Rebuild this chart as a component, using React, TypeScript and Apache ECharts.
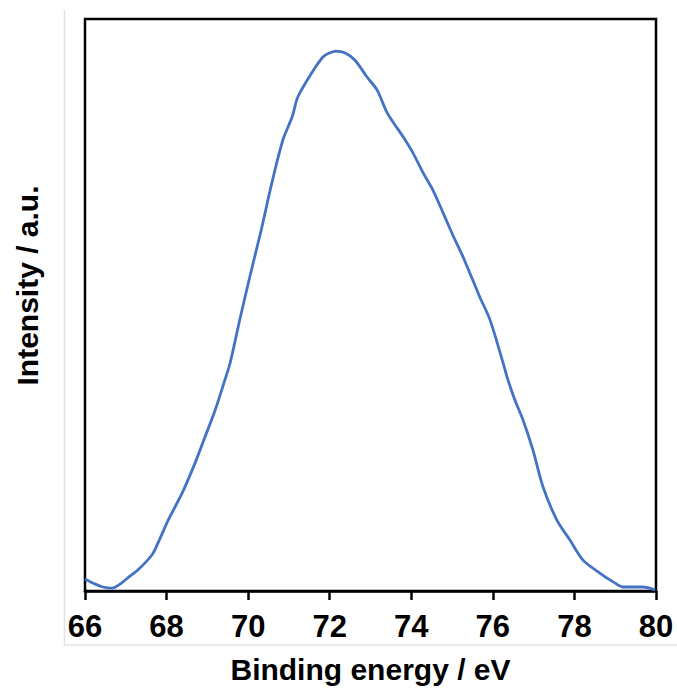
import React, { useEffect, useRef } from "react";
import * as echarts from "echarts";

const energy = [
  66.0, 66.25, 66.44, 66.66, 66.86, 67.05, 67.3, 67.64, 67.79, 68.04, 68.38, 68.7, 68.94, 69.19,
  69.43, 69.56, 69.8, 70.05, 70.32, 70.58, 70.85, 71.08, 71.22, 71.57, 71.84, 72.01, 72.15, 72.37,
  72.62, 72.91, 73.16, 73.4, 73.55, 73.8, 74.04, 74.29, 74.53, 74.78, 75.02, 75.27, 75.68,
  75.93, 76.25, 76.37, 76.54, 76.74, 76.98, 77.23, 77.57, 77.89, 78.21, 78.63, 78.95, 79.19,
  79.68, 79.98,
];
const intensity = [
  2.1, 1.2, 0.7, 0.5, 1.2, 2.3, 3.7, 6.3, 8.4, 12.4, 17.1, 22.4, 26.9, 31.6,
  36.9, 39.9, 47.6, 55.2, 63.1, 71.3, 78.8, 82.9, 86.4, 90.7, 93.4, 94.1, 94.4, 94.1,
  92.8, 89.9, 87.6, 83.7, 82.0, 79.4, 76.6, 73.1, 70.1, 66.1, 62.2, 58.4, 51.4,
  47.4, 39.9, 36.9, 33.4, 29.9, 24.7, 18.2, 12.4, 8.9, 5.4, 3.1, 1.6, 0.7,
  0.7, 0.2,
];
const xTitle = "Binding energy / eV";
const yTitle = "Intensity / a.u.";

const FONT = "'Liberation Sans', Arial, Helvetica, sans-serif";

export default function App() {
  const ref = useRef<HTMLDivElement>(null);
  useEffect(() => {
    if (!ref.current) return;
    const chart = echarts.init(ref.current, undefined, { renderer: "svg" });
    chart.setOption({
      animation: false,
      backgroundColor: "#ffffff",
      grid: {
        left: 85,
        right: 21,
        top: 19,
        bottom: 97,
        containLabel: false,
        outerBoundsMode: "none",
        show: true,
        borderColor: "#000",
        borderWidth: 2.5,
        backgroundColor: "transparent",
      },
      xAxis: {
        type: "value",
        min: 66,
        max: 80,
        interval: 2,
        name: xTitle,
        nameLocation: "middle",
        nameGap: 63,
        nameTextStyle: { fontFamily: FONT, fontWeight: "bold", fontSize: 30, color: "#000" },
        axisLine: { show: true, lineStyle: { color: "#000", width: 2.5 } },
        axisTick: { show: true, inside: false, length: 9, lineStyle: { color: "#000", width: 2.5 } },
        axisLabel: { fontFamily: FONT, fontWeight: "bold", fontSize: 31, color: "#000", margin: 20 },
        splitLine: { show: false },
      },
      yAxis: {
        type: "value",
        min: 0,
        max: 100,
        axisLine: { show: false },
        axisTick: { show: false },
        axisLabel: { show: false },
        splitLine: { show: false },
      },
      graphic: [
        {
          type: "line",
          shape: { x1: 64.5, y1: 10, x2: 64.5, y2: 645 },
          style: { stroke: "#e2e2e2", lineWidth: 1.5 },
          silent: true,
        },
        {
          type: "line",
          shape: { x1: 64, y1: 645, x2: 677, y2: 645 },
          style: { stroke: "#e2e2e2", lineWidth: 1.5 },
          silent: true,
        },
        {
          type: "text",
          x: 27,
          y: 285.5,
          rotation: Math.PI / 2,
          style: {
            text: yTitle,
            fontFamily: FONT,
            fontWeight: "bold",
            fontSize: 30,
            fill: "#000",
            align: "center",
            verticalAlign: "middle",
          },
        },
      ],
      series: [
        {
          type: "line",
          data: energy.map((e, i) => [e, intensity[i]]),
          showSymbol: false,
          smooth: 0.3,
          lineStyle: { color: "#4472C4", width: 2.8 },
          itemStyle: { color: "#4472C4" },
        },
      ],
    });
    return () => chart.dispose();
  }, []);
  return <div ref={ref} style={{ width: 677, height: 688, position: "absolute", left: 0, top: 0 }} />;
}
